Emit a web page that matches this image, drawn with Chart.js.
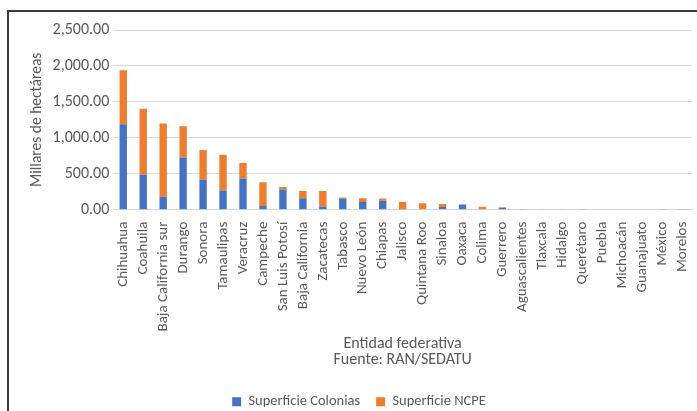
<!DOCTYPE html>
<html>
<head>
<meta charset="utf-8">
<script src="https://cdn.jsdelivr.net/npm/chart.js@4.4.0/dist/chart.umd.min.js"></script>
<style>
  html, body { margin: 0; padding: 0; background: #fff; }
  #wrap { position: absolute; left: 0; top: 0; width: 697px; height: 411px; }
  #frame { position: absolute; left: 7px; top: 10px; width: 700px; height: 420px;
           border-top: 2px solid #3c3c3c; border-left: 2px solid #3c3c3c; pointer-events: none; }
</style>
</head>
<body>
<div id="wrap"><canvas id="myChart"></canvas></div>
<div id="frame"></div>
<script>
const estados = ['Chihuahua', 'Coahuila', 'Baja California sur', 'Durango', 'Sonora', 'Tamaulipas',
  'Veracruz', 'Campeche', 'San Luis Potosí', 'Baja California', 'Zacatecas', 'Tabasco',
  'Nuevo León', 'Chiapas', 'Jalisco', 'Quintana Roo', 'Sinaloa', 'Oaxaca', 'Colima', 'Guerrero',
  'Aguascalientes', 'Tlaxcala', 'Hidalgo', 'Querétaro', 'Puebla', 'Michoacán', 'Guanajuato',
  'México', 'Morelos'];

// miles de hectáreas
const colonias = [1190, 485, 180, 725, 415, 265, 435, 50, 280, 160, 45, 150,
  105, 125, 8, 0, 38, 70, 0, 25, 10, 0, 4, 8, 0, 4, 0, 3, 3];
const ncpe = [750, 920, 1020, 435, 415, 500, 215, 330, 35, 100, 215, 20,
  55, 30, 100, 90, 42, 2, 40, 10, 0, 10, 4, 0, 5, 0, 4, 0, 0];

const yTicks = [0, 500, 1000, 1500, 2000, 2500];

const fontFam = 'Carlito, Lato, sans-serif';
const gris = '#595959';

const ctx = document.getElementById('myChart');
const chart = new Chart(ctx, {
  type: 'bar',
  data: {
    labels: estados,
    datasets: [
      {
        label: 'Superficie Colonias',
        data: colonias,
        backgroundColor: '#4472C4',
        borderWidth: 0,
      },
      {
        label: 'Superficie NCPE',
        data: ncpe,
        backgroundColor: '#ED7D31',
        borderWidth: 0,
      },
    ],
  },
  options: {
    responsive: true,
    maintainAspectRatio: false,
    animation: false,
    layout: { padding: { left: 26, right: 5, top: 30, bottom: -8 } },
    datasets: { bar: { categoryPercentage: 1, barPercentage: 0.37 } },
    scales: {
      x: {
        stacked: true,
        // la última etiqueta girada no necesita margen extra a la derecha
        afterFit: (scale) => { scale.paddingRight = 0; },
        grid: { display: false },
        border: { color: '#D9D9D9', width: 1 },
        ticks: {
          color: gris,
          font: { family: fontFam, size: 15 },
          minRotation: 90,
          maxRotation: 90,
          autoSkip: false,
          padding: 4,
        },
        title: {
          display: true,
          text: ['Entidad federativa', 'Fuente: RAN/SEDATU'],
          color: gris,
          font: { family: fontFam, size: 16, lineHeight: 1 },
          padding: { top: 0, bottom: 11 },
        },
      },
      y: {
        stacked: true,
        min: 0,
        max: 2500,
        afterBuildTicks: (axis) => { axis.ticks = yTicks.map(v => ({ value: v })); },
        grid: { color: '#D9D9D9', drawTicks: false },
        border: { display: false },
        ticks: {
          color: gris,
          font: { family: fontFam, size: 16 },
          padding: 4,
          callback: (v) => Number(v).toLocaleString('en-US', { minimumFractionDigits: 2, maximumFractionDigits: 2 }),
        },
        title: {
          display: true,
          text: 'Millares de hectáreas',
          color: gris,
          font: { family: fontFam, size: 15.5 },
          padding: 2,
        },
      },
    },
    plugins: {
      legend: {
        position: 'bottom',
        labels: {
          color: gris,
          font: { family: fontFam, size: 14.5 },
          boxWidth: 9,
          boxHeight: 9,
          padding: 16,
        },
      },
      tooltip: { enabled: false },
    },
  },
});
</script>
</body>
</html>
